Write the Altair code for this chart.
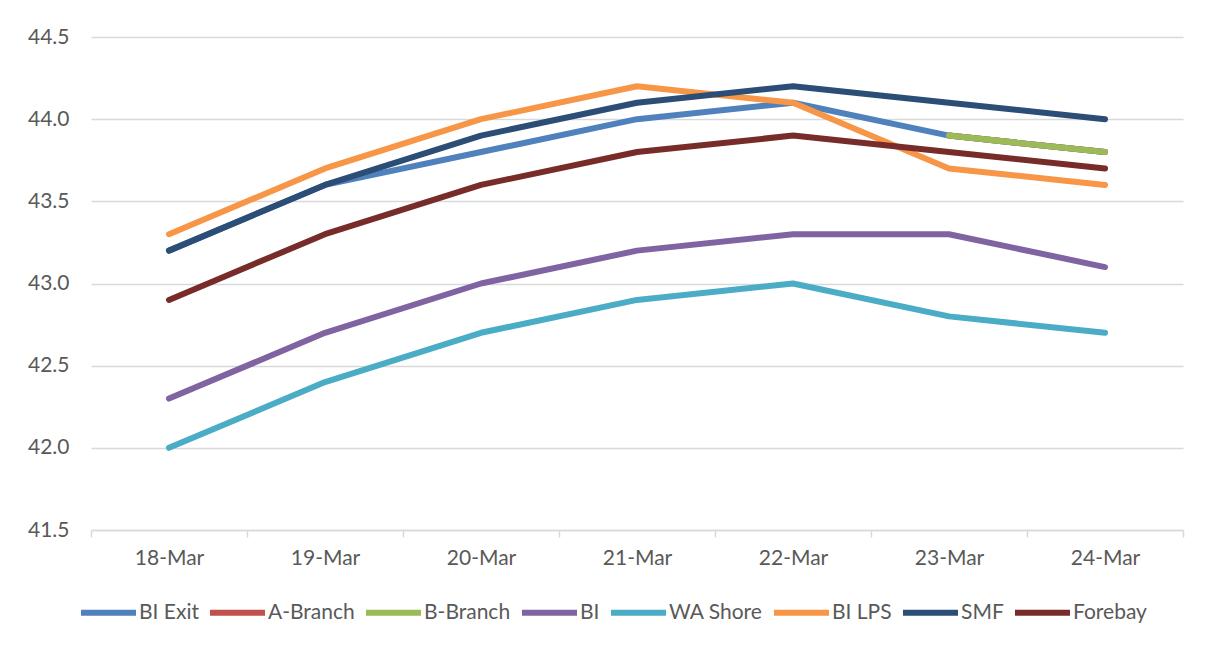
import altair as alt
import pandas as pd

dates = ["18-Mar", "19-Mar", "20-Mar", "21-Mar", "22-Mar", "23-Mar", "24-Mar"]
series = ["BI Exit", "A-Branch", "B-Branch", "BI", "WA Shore", "BI LPS", "SMF", "Forebay"]
colors = ["#4F81BD", "#C0504D", "#9BBB59", "#8064A2", "#4BACC6", "#F79646", "#2C4D75", "#772C2A"]

bi_exit = [43.2, 43.6, 43.8, 44.0, 44.1, 43.9, 43.8]
a_branch = [None, None, None, None, None, 43.9, 43.8]
b_branch = [None, None, None, None, None, 43.9, 43.8]
bi = [42.3, 42.7, 43.0, 43.2, 43.3, 43.3, 43.1]
wa_shore = [42.0, 42.4, 42.7, 42.9, 43.0, 42.8, 42.7]
bi_lps = [43.3, 43.7, 44.0, 44.2, 44.1, 43.7, 43.6]
smf = [43.2, 43.6, 43.9, 44.1, 44.2, 44.1, 44.0]
forebay = [42.9, 43.3, 43.6, 43.8, 43.9, 43.8, 43.7]

y_ticks = [41.5, 42.0, 42.5, 43.0, 43.5, 44.0, 44.5]

values = [bi_exit, a_branch, b_branch, bi, wa_shore, bi_lps, smf, forebay]
rows = []
for s, vals in zip(series, values):
    for d, v in zip(dates, vals):
        if v is not None:
            rows.append({"date": d, "series": s, "temp": v})
df = pd.DataFrame(rows)

FONT = "Lato"
TXT = "#595959"
GRID = "#D9D9D9"

base = alt.Chart(df).mark_line(strokeWidth=6, strokeCap="round", strokeJoin="round").encode(
    x=alt.X("date:N", sort=dates, bandPosition=0.5,
            scale=alt.Scale(type="band", domain=dates, paddingInner=0, paddingOuter=0),
            axis=alt.Axis(title=None, labelAngle=0, tickBand="extent", domainColor=GRID,
                          domainWidth=1.5, tickColor=GRID, tickWidth=1.5, tickSize=7,
                          labelPadding=10, labelFontSize=21, labelFont=FONT, labelColor=TXT,
                          grid=False)),
    y=alt.Y("temp:Q", scale=alt.Scale(domain=[41.5, 44.5], nice=False, zero=False),
            axis=alt.Axis(title=None, values=y_ticks, format=".1f", domain=False, ticks=False,
                          grid=True, gridColor=GRID, gridWidth=1.5, labelPadding=22,
                          labelFontSize=21, labelFont=FONT, labelColor=TXT)),
    color=alt.Color("series:N", scale=alt.Scale(domain=series, range=colors),
                    legend=alt.Legend(title=None, orient="none", direction="horizontal",
                                      columns=8, legendX=-13, legendY=545,
                                      symbolType="stroke", symbolSize=3025,
                                      symbolStrokeWidth=6, labelFontSize=21, labelFont=FONT,
                                      labelColor=TXT, labelOffset=0, columnPadding=-1,
                                      padding=0)),
)

layers = [base.transform_filter(alt.datum.series == s) for s in series]

chart = alt.layer(*layers).properties(
    width=1092, height=493,
    autosize=alt.AutoSizeParams(type="none"),
    padding={"left": 83, "top": 29, "right": 18, "bottom": 98},
).configure_view(stroke=None)

chart.save("out.html", embed_options={"renderer": "svg", "actions": False})
